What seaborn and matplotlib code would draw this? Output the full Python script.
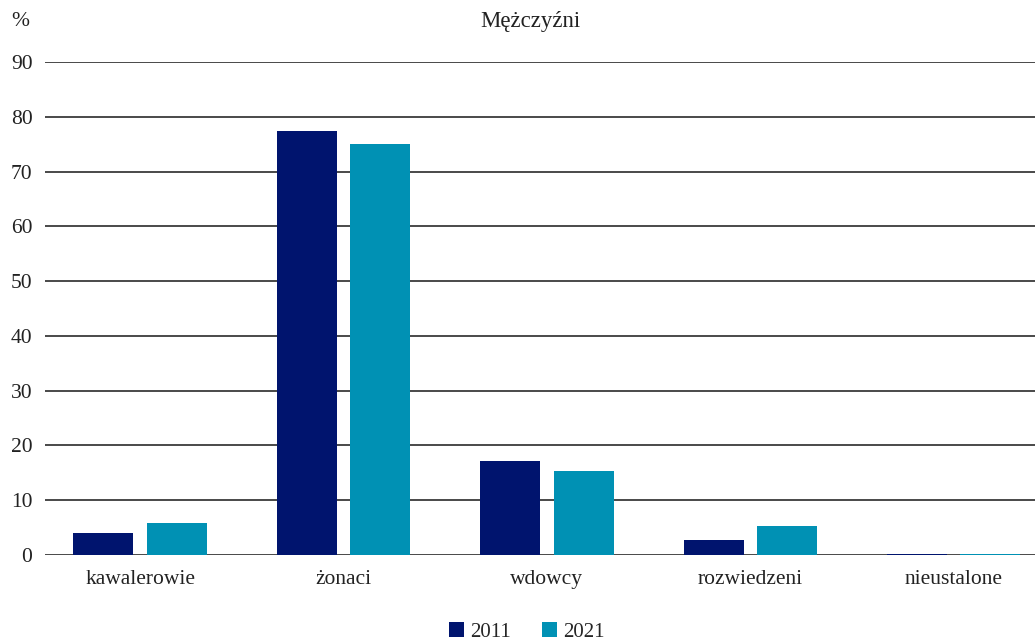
import matplotlib
matplotlib.use("Agg")
import matplotlib.pyplot as plt
import seaborn as sns
import pandas as pd
from matplotlib.patches import Patch

categories = ["kawalerowie", "żonaci", "wdowcy", "rozwiedzeni", "nieustalone"]
years = ["2011", "2021"]
values_2011 = [4.0, 77.4, 17.2, 2.7, 0.2]
values_2021 = [5.8, 75.0, 15.3, 5.3, 0.2]
y_ticks = [0, 10, 20, 30, 40, 50, 60, 70, 80, 90]
colors = ["#00146E", "#0091B4"]

df = pd.DataFrame({
    "kategoria": categories * 2,
    "rok": [years[0]] * len(categories) + [years[1]] * len(categories),
    "wartosc": values_2011 + values_2021,
})

sns.set_theme(style="white")
plt.rcParams["font.family"] = ["Liberation Serif", "DejaVu Serif"]

fig = plt.figure(figsize=(10.35, 6.44), dpi=100)
ax = fig.add_axes([45 / 1035, (644 - 555) / 644, 1 - 45 / 1035, (555 - 62) / 644])

sns.barplot(data=df, x="kategoria", y="wartosc", hue="rok", order=categories,
            hue_order=years, palette=colors, width=0.723, gap=0.184,
            saturation=1, ax=ax, legend=False, linewidth=0)

ax.set_ylim(0, 90)
ax.set_xlim(-0.468, 4.40)
ax.set_yticks(y_ticks)
ax.set_yticklabels([str(t) for t in y_ticks], fontsize=15.5, color="#222222")
ax.tick_params(axis="y", length=0, pad=9)
ax.tick_params(axis="x", length=0, pad=11, labelsize=15.5, labelcolor="#222222")
ax.set_xlabel("")
ax.set_ylabel("")
ax.grid(axis="y", color="#3a3a3a", linewidth=1.3)
ax.set_axisbelow(True)
for s in ax.spines.values():
    s.set_visible(False)

fig.text(20 / 1035, 1 - 22 / 644, "%", fontsize=15.5, color="#222222", ha="center", va="center")
fig.text(530 / 1035, 1 - 22 / 644, "Mężczyźni", fontsize=16.5, color="#222222", ha="center", va="center")

handles = [Patch(facecolor=c, edgecolor="none") for c in colors]
fig.legend(handles, years, loc="center", bbox_to_anchor=(527 / 1035, 1 - 632 / 644),
           ncol=2, frameon=False, fontsize=15, handlelength=0.7, handleheight=0.7,
           handletextpad=0.3, columnspacing=1.5)

fig.savefig("out.png", dpi=100)
